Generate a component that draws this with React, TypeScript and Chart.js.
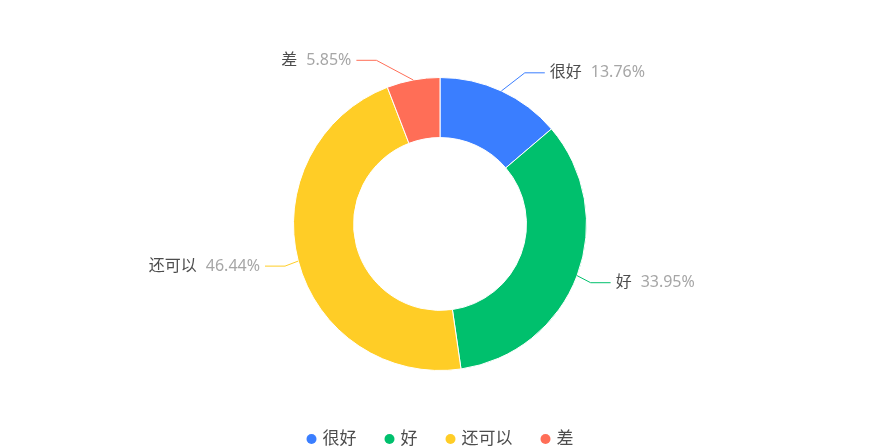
import React, { useEffect, useRef } from 'react';
import { Chart, registerables } from 'chart.js';

Chart.register(...registerables);

const categories: string[] = ['很好', '好', '还可以', '差'];
const values: number[] = [13.76, 33.95, 46.44, 5.85];
const colors: string[] = ['#3A7EFF', '#00C06D', '#FFCD26', '#FF6E57'];

const FONT = "'Noto Sans', 'Noto Sans CJK SC', sans-serif";
const NAME_COLOR = '#4d4d4d';
const PCT_COLOR = '#a6a6a6';

const outerLabels = {
  id: 'outerLabels',
  afterDatasetsDraw(chart: any) {
    const ctx = chart.ctx as CanvasRenderingContext2D;
    const meta = chart.getDatasetMeta(0);
    const total = values.reduce((a, b) => a + b, 0);
    ctx.save();
    ctx.font = `16px ${FONT}`;
    ctx.textBaseline = 'middle';
    meta.data.forEach((arc: any, i: number) => {
      const p = arc.getProps(['x', 'y', 'startAngle', 'endAngle', 'outerRadius'], true);
      const cx = p.x, cy = p.y, R = p.outerRadius;
      const mid = (p.startAngle + p.endAngle) / 2;
      const sx = cx + Math.cos(mid) * R;
      const sy = cy + Math.sin(mid) * R;
      const ly = cy + Math.sin(mid) * (R + 20);
      const dy = ly - cy;
      const rA = R + 13, rB = R + 32;
      const side = Math.cos(mid) >= 0 ? 1 : -1;
      const ex = cx + side * rA * Math.sqrt(Math.max(0, 1 - (dy / rB) ** 2));
      const hx = ex + side * 20;
      ctx.strokeStyle = colors[i];
      ctx.lineWidth = 1;
      ctx.beginPath();
      ctx.moveTo(sx, sy);
      ctx.lineTo(ex, ly);
      ctx.lineTo(hx, ly);
      ctx.stroke();
      const name = categories[i];
      const pct = ((values[i] / total) * 100).toFixed(2) + '%';
      const nameW = ctx.measureText(name).width;
      const pctW = ctx.measureText(pct).width;
      const gap = 9;
      let x0: number;
      if (side > 0) {
        x0 = hx + 5;
      } else {
        x0 = hx - 5 - pctW - gap - nameW;
      }
      ctx.textAlign = 'left';
      ctx.fillStyle = NAME_COLOR;
      ctx.fillText(name, x0, ly);
      ctx.fillStyle = PCT_COLOR;
      ctx.fillText(pct, x0 + nameW + gap, ly);
    });
    ctx.restore();
  },
};

const bottomLegend = {
  id: 'bottomLegend',
  afterDraw(chart: any) {
    const ctx = chart.ctx as CanvasRenderingContext2D;
    const labels: string[] = chart.data.labels;
    const bg: string[] = chart.data.datasets[0].backgroundColor;
    ctx.save();
    ctx.font = `17px ${FONT}`;
    ctx.textBaseline = 'middle';
    ctx.textAlign = 'left';
    const r = 5, dotToText = 11, itemGap = 28;
    const widths = labels.map((l) => ctx.measureText(l).width);
    let total = 0;
    widths.forEach((w, i) => {
      total += r + dotToText + w;
      if (i < widths.length - 1) total += itemGap;
    });
    let x = chart.width / 2 - total / 2;
    const y = 439;
    labels.forEach((l, i) => {
      ctx.fillStyle = bg[i];
      ctx.beginPath();
      ctx.arc(x + r, y, r, 0, Math.PI * 2);
      ctx.fill();
      ctx.fillStyle = NAME_COLOR;
      ctx.fillText(l, x + r + dotToText, y);
      x += r + dotToText + widths[i] + itemGap;
    });
    ctx.restore();
  },
};

export default function App() {
  const ref = useRef<HTMLCanvasElement | null>(null);
  useEffect(() => {
    if (!ref.current) return;
    const chart = new Chart(ref.current, {
      type: 'doughnut',
      data: {
        labels: categories,
        datasets: [
          {
            data: values,
            backgroundColor: colors,
            borderColor: '#ffffff',
            borderWidth: 1,
          },
        ],
      },
      options: {
        responsive: false,
        animation: false,
        events: [],
        cutout: '59%',
        layout: { padding: { top: 77, bottom: 77, left: 0, right: 0 } },
        plugins: {
          legend: { display: false },
          tooltip: { enabled: false },
        },
      },
      plugins: [outerLabels, bottomLegend],
    });
    return () => chart.destroy();
  }, []);
  return (
    <div style={{ position: 'fixed', left: 0, top: 0, width: 880, height: 448, background: '#fff' }}>
      <canvas ref={ref} width={880} height={448} style={{ display: 'block' }} />
    </div>
  );
}
